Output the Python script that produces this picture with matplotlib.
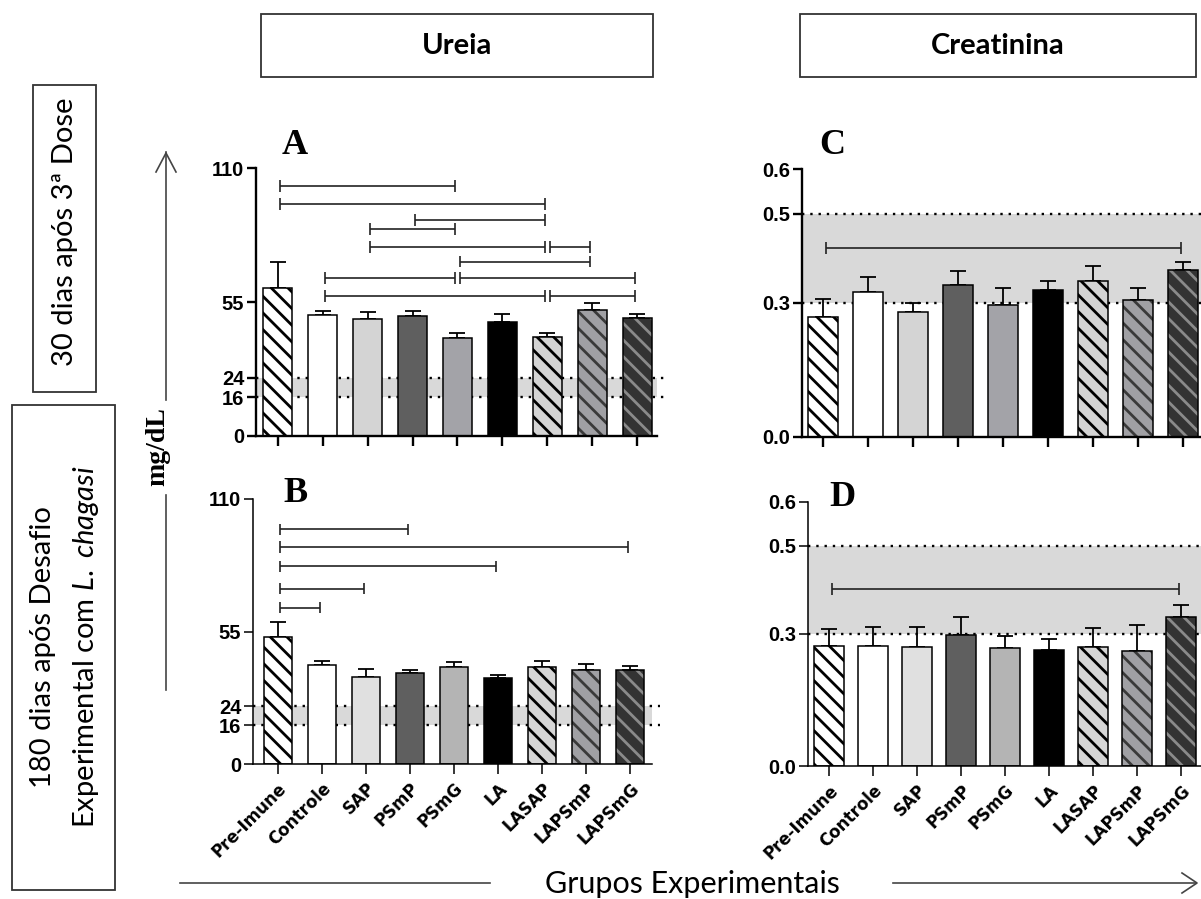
import numpy as np
import matplotlib
matplotlib.use("Agg")
import matplotlib.pyplot as plt
from matplotlib.patches import Rectangle
from matplotlib.lines import Line2D

W, H = 1201, 899

plt.rcParams["hatch.linewidth"] = 2.0
plt.rcParams["mathtext.fontset"] = "custom"
plt.rcParams["mathtext.rm"] = "Lato"
plt.rcParams["mathtext.it"] = "Lato:italic"

groups = ["Pre-Imune", "Controle", "SAP", "PSmP", "PSmG", "LA", "LASAP", "LAPSmP", "LAPSmG"]

# Ureia (mg/dL), mean and SEM
ureia_30 = [60.9, 49.7, 48.0, 49.1, 40.2, 46.9, 40.8, 51.9, 48.6]
ureia_30_err = [10.7, 1.6, 2.8, 2.2, 2.2, 3.3, 1.6, 2.8, 1.6]
ureia_180 = [52.7, 41.2, 36.1, 37.9, 40.1, 35.6, 40.1, 39.0, 39.0]
ureia_180_err = [6.4, 1.6, 3.4, 1.1, 2.2, 1.2, 2.7, 2.7, 1.6]

# Creatinina (mg/dL), mean and SEM
creat_30 = [0.269, 0.325, 0.280, 0.340, 0.296, 0.329, 0.349, 0.306, 0.374]
creat_30_err = [0.040, 0.034, 0.020, 0.031, 0.038, 0.020, 0.035, 0.028, 0.019]
creat_180 = [0.273, 0.273, 0.270, 0.298, 0.267, 0.264, 0.270, 0.261, 0.339]
creat_180_err = [0.037, 0.043, 0.046, 0.041, 0.028, 0.024, 0.044, 0.058, 0.027]

# reference intervals
ureia_ref = (16, 24)
creat_ref = (0.3, 0.5)

ureia_ticks = [0, 16, 24, 55, 110]
creat_ticks = [0.0, 0.3, 0.5, 0.6]
creat_ticklabels = ["0.0", "0.3", "0.5", "0.6"]

# significant differences: (group a, group b, bracket height)
brackets_A = [(0, 4, 102.6), (0, 6, 95.2), (3, 6, 88.7), (2, 4, 85.1),
              (2, 6, 77.7), (6, 7, 77.7), (4, 7, 71.6), (1, 4, 64.9),
              (4, 8, 64.9), (1, 6, 57.6), (6, 8, 57.6)]
brackets_B = [(0, 3, 97.4), (0, 8, 90.2), (0, 5, 82.0), (0, 2, 72.8), (0, 1, 64.9)]
brackets_C = [(0, 8, 0.423)]
brackets_D = [(0, 8, 0.402)]

HATCH = "\\\\"
face_top = ["white", "white", "#d4d4d4", "#5f5f5f", "#a3a3a8", "black", "#d4d4d4", "#a0a0a4", "#333333"]
face_bot = ["white", "white", "#e0e0e0", "#5f5f5f", "#b4b4b4", "black", "#d6d6d6", "#a0a0a4", "#333333"]
hatch_pat = [HATCH, None, None, None, None, None, HATCH, HATCH, HATCH]
hatch_col = ["black", None, None, None, None, None, "black", "#3a3a3a", "#8a8a8a"]

fig = plt.figure(figsize=(W / 100, H / 100), dpi=100)


def px_axes(l, r, t, b):
    return fig.add_axes([l / W, 1 - b / H, (r - l) / W, (b - t) / H])


def panel(ax, vals, errs, faces, width, xlim, ylim, ticks, ticklabels, ref,
          brackets, lw_axis, show_labels):
    n = len(groups)
    x = np.arange(n)
    ax.set_xlim(*xlim)
    ax.set_ylim(*ylim)
    ax.axhspan(ref[0], ref[1], facecolor="#d9d9d9", lw=0, zorder=0)
    for yv in ref:
        ax.plot([0, 1.02], [yv, yv], transform=ax.get_yaxis_transform(),
                color="black", ls=(0, (1, 2.5)), lw=1.7, zorder=0.5, clip_on=False)
    for i in range(n):
        if hatch_pat[i]:
            ax.bar(x[i], vals[i], width, color=faces[i], edgecolor=hatch_col[i],
                   hatch=hatch_pat[i], lw=0, zorder=2)
        else:
            ax.bar(x[i], vals[i], width, color=faces[i], lw=0, zorder=2)
        ax.bar(x[i], vals[i], width, fill=False, edgecolor="black", lw=1.1, zorder=3)
    ax.errorbar(x, vals, yerr=[np.zeros(n), errs], fmt="none", ecolor="black",
                elinewidth=1.3, capsize=6, capthick=1.3, zorder=1.5)
    th = 0.022 * ylim[1]
    for a, b, h in brackets:
        xa, xb = a + 0.05, b - 0.05
        kw = dict(color="#222222", lw=1.2, zorder=4, solid_capstyle="butt")
        ax.plot([xa, xb], [h, h], **kw)
        ax.plot([xa, xa], [h - th, h + th], **kw)
        ax.plot([xb, xb], [h - th, h + th], **kw)
    for s in ("top", "right"):
        ax.spines[s].set_visible(False)
    for s in ("left", "bottom"):
        ax.spines[s].set_linewidth(lw_axis)
    ax.set_yticks(ticks)
    ax.set_yticklabels(ticklabels, fontfamily="Liberation Sans",
                       fontweight="bold", fontsize=14.5)
    ax.tick_params(axis="y", length=6.5, width=lw_axis, pad=2)
    ax.tick_params(axis="x", length=7, width=lw_axis, pad=4)
    ax.set_xticks(x)
    if show_labels:
        ax.set_xticklabels(groups, rotation=45, ha="right", va="top",
                           rotation_mode="anchor", fontfamily="DejaVu Sans",
                           fontweight="bold", fontsize=12)
    else:
        ax.set_xticklabels([])


axA = px_axes(256, 657, 168, 436)
panel(axA, ureia_30, ureia_30_err, face_top, 0.645, (-0.483, 8.44), (0, 110),
      ureia_ticks, [str(t) for t in ureia_ticks], ureia_ref, brackets_A, 1.7, False)

axB = px_axes(253, 652, 499, 764)
panel(axB, ureia_180, ureia_180_err, face_bot, 0.64, (-0.56, 8.5), (0, 110),
      ureia_ticks, [str(t) for t in ureia_ticks], ureia_ref, brackets_B, 1.1, True)

axC = px_axes(801.7, 1203, 169.3, 436.7)
panel(axC, creat_30, creat_30_err, face_top, 0.67, (-0.48, 8.45), (0, 0.6),
      creat_ticks, creat_ticklabels, creat_ref, brackets_C, 1.7, False)

axD = px_axes(808.3, 1200.6, 501.7, 766)
panel(axD, creat_180, creat_180_err, face_bot, 0.68, (-0.48, 8.45), (0, 0.6),
      creat_ticks, creat_ticklabels, creat_ref, brackets_D, 1.1, True)


def ftext(x, y, s, **kw):
    return fig.text(x / W, 1 - y / H, s, **kw)


def fline(xs, ys, **kw):
    fig.add_artist(Line2D([v / W for v in xs], [1 - v / H for v in ys],
                          transform=fig.transFigure, **kw))


def fbox(l, r, t, b, **kw):
    fig.add_artist(Rectangle((l / W, 1 - b / H), (r - l) / W, (b - t) / H,
                             transform=fig.transFigure, fill=False, **kw))


# panel letters
letter_kw = dict(fontfamily="Liberation Serif", fontweight="bold", fontsize=26,
                 ha="center", va="center")
ftext(295, 146, "A", **letter_kw)
ftext(295, 494, "B", **letter_kw)
ftext(832, 146, "C", **letter_kw)
ftext(842, 498, "D", **letter_kw)

# column headers
fbox(261, 653, 14, 77, lw=1.3, edgecolor="#333333")
fbox(800, 1196, 14, 77, lw=1.3, edgecolor="#333333")
head_kw = dict(fontfamily="Lato", fontweight="bold", fontsize=21, ha="center", va="center")
ftext(457, 46, "Ureia", **head_kw)
ftext(998, 46, "Creatinina", **head_kw)

# row labels
row_kw = dict(fontfamily="Lato", fontsize=21, rotation=90, ha="center", va="center")
fbox(33, 96, 85, 392, lw=1.3, edgecolor="#333333")
ftext(65, 232, "30 dias após 3ª Dose", **row_kw)
fbox(12, 115, 405, 890, lw=1.3, edgecolor="#333333")
ftext(43, 647, "180 dias após Desafio", **row_kw)
ftext(86, 647, r"Experimental com $\mathit{L.\ chagasi}$", **row_kw)

# y axis title with arrow
ftext(158, 447, "mg/dL", fontfamily="Liberation Serif", fontweight="bold",
      fontsize=20, rotation=90, ha="center", va="center")
arrow_kw = dict(color="#444444", lw=1.2)
fline([166, 166], [152, 400], **arrow_kw)
fline([166, 166], [495, 690], **arrow_kw)
fline([156, 166, 176], [172, 153, 172], **arrow_kw)

# x axis title with arrow
ftext(692, 884, "Grupos Experimentais", fontfamily="Lato", fontsize=22,
      ha="center", va="center")
fline([180, 490], [883, 883], **arrow_kw)
fline([893, 1196], [883, 883], **arrow_kw)
fline([1182, 1197, 1182], [873, 883, 893], **arrow_kw)

fig.savefig("out.png", dpi=100)
